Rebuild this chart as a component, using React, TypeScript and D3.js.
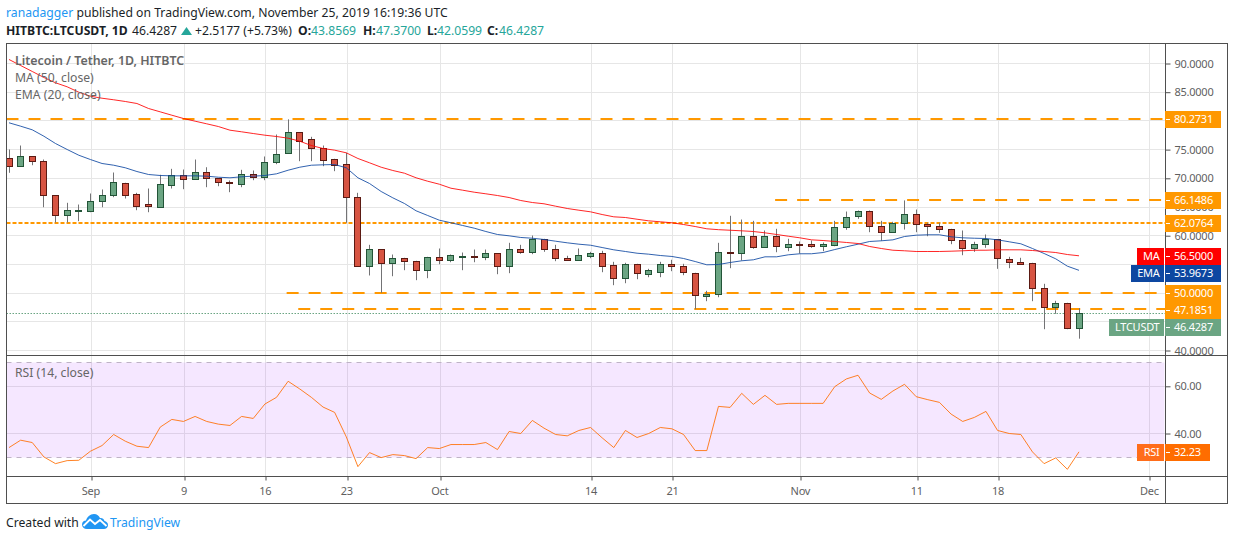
// App.tsx
import React, { useRef, useEffect } from 'react';
import * as d3 from 'd3';

const firstDay = new Date(Date.UTC(2019, 7, 25));
const lastDay = new Date(Date.UTC(2019, 10, 25));
const days = d3.utcDay.range(firstDay, d3.utcDay.offset(lastDay, 1));

const opens = [
  73.40, 72.11, 73.80, 72.87, 66.95, 63.57, 64.22, 64.27, 65.90, 67.06,
  69.04, 67.13, 65.38, 64.86, 68.80, 70.43, 69.84, 70.96, 69.91, 69.22,
  68.97, 70.61, 70.09, 72.70, 74.27, 77.93, 76.71, 75.14, 73.22, 72.35,
  66.60, 54.58, 57.54, 55.21, 55.97, 55.45, 53.88, 56.15, 55.63, 56.32,
  56.43, 56.25, 56.85, 54.58, 57.54, 57.02, 59.28, 57.54, 55.97, 55.73,
  56.43, 56.85, 54.76, 52.49, 54.93, 53.29, 53.64, 54.93, 54.58, 53.36,
  49.46, 49.70, 57.02, 56.85, 59.81, 57.89, 59.81, 57.89, 58.47, 58.47,
  58.17, 58.35, 61.38, 63.29, 64.16, 61.55, 60.50, 62.07, 63.64, 61.90,
  61.55, 61.03, 59.11, 57.72, 58.41, 59.28, 55.80, 55.28, 55.10, 50.75,
  47.44, 48.13, 43.8569,
];
const highs = [
  75.02, 75.71, 73.85, 73.27, 66.95, 65.73, 65.43, 67.35, 68.05, 71.01,
  69.22, 67.47, 68.22, 70.61, 71.65, 71.53, 73.27, 71.93, 69.91, 69.62,
  71.48, 71.36, 73.80, 77.63, 80.27, 77.93, 77.23, 75.71, 73.40, 74.44,
  67.47, 58.41, 57.54, 56.72, 56.15, 55.63, 56.32, 57.77, 56.72, 57.07,
  57.59, 57.59, 56.85, 58.76, 58.41, 60.03, 59.46, 58.41, 56.50, 57.77,
  57.19, 57.37, 55.45, 55.28, 55.10, 54.23, 55.45, 55.80, 55.10, 53.54,
  50.40, 58.76, 63.47, 62.82, 62.59, 60.91, 61.20, 59.46, 58.99, 59.16,
  58.82, 62.59, 64.21, 64.39, 64.39, 62.59, 62.42, 66.15, 64.56, 62.25,
  62.25, 61.20, 60.91, 58.94, 60.21, 59.28, 56.32, 56.15, 55.28, 51.62,
  48.66, 48.31, 47.37,
];
const lows = [
  70.96, 72.11, 72.28, 64.96, 62.30, 62.30, 62.53, 64.09, 64.96, 66.71,
  66.48, 64.44, 64.09, 64.86, 68.22, 68.10, 69.79, 68.45, 68.62, 67.58,
  68.45, 69.67, 69.67, 72.46, 74.27, 72.98, 72.98, 72.11, 71.24, 62.25,
  54.58, 53.07, 50.05, 52.94, 53.99, 52.25, 52.60, 55.03, 55.38, 53.99,
  55.38, 55.73, 53.29, 53.47, 56.85, 56.78, 57.19, 55.56, 55.63, 55.73,
  56.08, 53.64, 51.38, 51.72, 52.42, 52.77, 52.77, 53.82, 53.12, 47.19,
  48.59, 49.28, 54.34, 55.68, 57.72, 57.89, 57.12, 57.30, 56.90, 57.89,
  57.30, 58.17, 61.03, 62.94, 60.61, 59.11, 60.50, 61.08, 60.61, 59.91,
  60.50, 58.52, 56.60, 57.19, 57.89, 54.23, 54.34, 54.93, 48.59, 43.71,
  46.39, 43.71, 42.0599,
];
const closes = [
  72.11, 73.74, 72.98, 66.95, 63.57, 64.34, 64.34, 65.90, 66.95, 69.22,
  67.06, 65.14, 65.03, 68.87, 70.43, 69.84, 70.96, 69.91, 69.22, 69.04,
  70.61, 70.09, 72.70, 74.09, 77.93, 76.46, 75.14, 73.15, 72.28, 66.60,
  54.58, 57.54, 55.10, 55.97, 55.45, 53.88, 56.15, 55.63, 56.50, 56.43,
  56.25, 56.85, 54.58, 57.54, 57.02, 59.28, 57.54, 55.97, 55.73, 56.50,
  56.85, 54.58, 52.49, 54.93, 53.36, 53.88, 54.93, 54.58, 53.54, 49.53,
  49.70, 57.02, 56.85, 59.81, 57.89, 59.81, 58.07, 58.41, 58.35, 58.17,
  58.41, 61.38, 63.12, 64.16, 61.55, 60.50, 62.07, 63.64, 61.90, 61.55,
  61.03, 59.11, 57.72, 58.41, 59.28, 55.97, 55.28, 55.03, 50.75, 47.44,
  48.13, 43.8569, 46.4287,
];

const ma50 = [
  90.70, 89.65, 88.61, 87.56, 86.64, 85.94, 85.00, 84.30, 83.95, 83.68,
  83.38, 83.03, 82.16, 81.58, 80.99, 80.42, 79.95, 79.49, 79.02, 78.38,
  78.10, 77.80, 77.51, 77.28, 76.99, 76.46, 75.71, 75.19, 74.90, 74.44,
  73.45, 72.70, 71.93, 71.36, 70.89, 70.09, 69.49, 68.97, 68.27, 67.93,
  67.58, 67.30, 67.00, 66.65, 66.13, 65.78, 65.56, 65.14, 64.74, 64.44,
  64.16, 63.69, 63.29, 63.17, 62.87, 62.59, 62.42, 62.25, 61.95, 61.60,
  61.20, 61.05, 60.95, 60.85, 60.73, 60.50, 60.21, 59.91, 59.63, 59.28,
  59.16, 58.99, 58.82, 58.64, 58.12, 57.77, 57.47, 57.37, 57.25, 57.25,
  57.25, 57.30, 57.37, 57.47, 57.47, 57.54, 57.54, 57.54, 57.42, 57.25,
  57.07, 56.72, 56.50,
];
const ema20 = [
  79.67, 79.08, 78.45, 77.33, 76.06, 75.02, 74.02, 73.27, 72.58, 72.28,
  71.83, 71.18, 70.66, 70.49, 70.43, 70.43, 70.43, 70.37, 70.19, 70.09,
  70.26, 70.37, 70.49, 70.78, 71.41, 71.93, 72.28, 72.35, 72.40, 71.83,
  70.09, 69.09, 67.70, 66.60, 65.61, 64.34, 63.52, 62.70, 62.25, 61.78,
  61.31, 60.73, 60.21, 59.98, 59.69, 59.56, 59.34, 59.04, 58.76, 58.52,
  58.34, 57.94, 57.54, 57.25, 56.95, 56.78, 56.55, 56.38, 56.03, 55.50,
  54.93, 54.98, 55.33, 55.63, 55.80, 56.32, 56.32, 56.67, 56.85, 56.85,
  57.07, 57.59, 58.07, 58.52, 58.99, 59.11, 59.28, 59.86, 60.09, 60.16,
  60.16, 59.81, 59.63, 59.56, 59.51, 59.28, 58.94, 58.59, 57.77, 56.90,
  55.97, 54.69, 53.9673,
];
const rsi14 = [
  34.04, 37.16, 36.17, 30.07, 27.23, 28.51, 28.65, 32.48, 34.89, 39.57,
  36.74, 34.61, 34.04, 42.70, 45.96, 45.11, 47.23, 45.11, 43.97, 43.40,
  47.23, 46.38, 52.48, 55.32, 62.13, 58.87, 55.32, 51.21, 48.94, 38.58,
  25.96, 31.91, 29.79, 31.06, 30.64, 29.36, 34.04, 33.62, 35.32, 35.32,
  35.32, 36.17, 33.19, 40.85, 40.00, 45.53, 42.27, 39.57, 39.01, 41.28,
  42.55, 38.16, 34.04, 41.28, 38.30, 40.00, 42.55, 41.99, 39.57, 32.77,
  32.77, 51.49, 51.06, 57.02, 52.34, 56.17, 52.34, 52.77, 52.77, 52.77,
  52.77, 59.86, 63.12, 64.68, 57.16, 54.47, 58.01, 60.85, 55.60, 54.33,
  53.19, 48.23, 45.11, 46.81, 49.36, 41.28, 40.00, 39.57, 32.20, 27.23,
  29.65, 24.82, 32.23,
];

const priceTicks = [90, 85, 80, 75, 70, 65, 60, 55, 50, 45, 40];
// these tick labels sit fully behind the price tags
const coveredTicks = [80, 55, 50, 45];
const rsiTicks = [60, 40];
const rsiBand = [70, 30];
const timeTickDates = [
  new Date(Date.UTC(2019, 8, 1)), new Date(Date.UTC(2019, 8, 9)), new Date(Date.UTC(2019, 8, 16)),
  new Date(Date.UTC(2019, 8, 23)), new Date(Date.UTC(2019, 9, 1)), new Date(Date.UTC(2019, 9, 14)),
  new Date(Date.UTC(2019, 9, 21)), new Date(Date.UTC(2019, 10, 1)), new Date(Date.UTC(2019, 10, 11)),
  new Date(Date.UTC(2019, 10, 18)), new Date(Date.UTC(2019, 11, 1)),
];
const timeTickLabels = ['Sep', '9', '16', '23', 'Oct', '14', '21', 'Nov', '11', '18', 'Dec'];

const levelPrices = [80.2731, 66.1486, 62.0764, 50.0, 47.1851];
const levelStarts = [null, new Date(Date.UTC(2019, 9, 30)), null, new Date(Date.UTC(2019, 8, 18)), new Date(Date.UTC(2019, 8, 19))];
const levelDotted = [false, false, true, false, false];
const levelEnds = [1165, 1165, 1165, 1160, 1165];
const levelTagNudge = [0, 0, -1, 0, 1];

const FONT = '"Noto Sans", sans-serif';
const UP = '#6ba583', UP_DARK = '#225437', DOWN = '#d75442', DOWN_DARK = '#5b1a13';
const ORANGE = '#ff9800', BORDER = '#4f4f4f', GRID = '#e6e6e6', TICK_TEXT = '#5f5f5f';
const TEAL = '#26a69a', INK = '#1b1f28', BLUE = '#0d47a1';

const LEFT = 6.5, AXIS_X = 1165.5, RIGHT = 1227.5;
const TOP = 43.5, PRICE_BOTTOM = 355.5, RSI_BOTTOM = 476.5, BOTTOM = 503.5;

const App: React.FC = () => {
  const svgRef = useRef<SVGSVGElement | null>(null);

  useEffect(() => {
    const svg = d3.select(svgRef.current);
    svg.selectAll('*').remove();

    const x = d3.scaleUtc().domain([firstDay, lastDay]).range([9, 1079]);
    const y = d3.scaleLinear().domain([40, 90]).range([350.5, 63.5]);
    const r = d3.scaleLinear().domain([40, 60]).range([433.5, 386.3]);
    const gridX = (d: Date) => Math.round(x(d) + 0.5) + 0.5;
    const snap = (v: number) => Math.floor(v) + 0.5;
    const candleX = (d: Date) => Math.round(x(d) - 0.5) + 0.5;

    svg.append('clipPath').attr('id', 'pricePane').append('rect')
      .attr('x', LEFT).attr('y', TOP).attr('width', AXIS_X - LEFT).attr('height', PRICE_BOTTOM - TOP);
    svg.append('clipPath').attr('id', 'rsiPane').append('rect')
      .attr('x', LEFT).attr('y', PRICE_BOTTOM).attr('width', AXIS_X - LEFT).attr('height', RSI_BOTTOM - PRICE_BOTTOM);

    // Grid
    const grid = svg.append('g').attr('stroke', GRID).attr('stroke-width', 1);
    grid.selectAll('.price-h').data(priceTicks).enter().append('line')
      .attr('x1', LEFT).attr('x2', AXIS_X).attr('y1', d => snap(y(d))).attr('y2', d => snap(y(d)));
    grid.selectAll('.rsi-h').data(rsiTicks).enter().append('line')
      .attr('x1', LEFT).attr('x2', AXIS_X).attr('y1', d => snap(r(d))).attr('y2', d => snap(r(d)));
    grid.selectAll('.time-v').data(timeTickDates).enter().append('line')
      .attr('x1', gridX).attr('x2', gridX).attr('y1', TOP).attr('y2', RSI_BOTTOM);

    // RSI band
    svg.append('rect')
      .attr('x', LEFT).attr('width', AXIS_X - LEFT - 1)
      .attr('y', snap(r(rsiBand[0]))).attr('height', snap(r(rsiBand[1])) - snap(r(rsiBand[0])))
      .attr('fill', 'rgb(153,21,255)').attr('fill-opacity', 0.1);
    svg.append('g').selectAll('line').data(rsiBand).enter().append('line')
      .attr('x1', LEFT).attr('x2', AXIS_X - 1).attr('y1', d => snap(r(d))).attr('y2', d => snap(r(d)))
      .attr('stroke', '#bfb3c6').attr('stroke-dasharray', '5 5');

    // Horizontal levels
    const levels = svg.append('g').attr('clip-path', 'url(#pricePane)');
    levelPrices.forEach((p, i) => {
      const start = levelStarts[i];
      const ly = Math.round(levelDotted[i] ? y(p) - 0.5 : y(p));
      levels.append('line')
        .attr('x1', start ? x(start) - 1.5 : LEFT).attr('x2', levelEnds[i])
        .attr('y1', ly).attr('y2', ly)
        .attr('stroke', ORANGE).attr('stroke-width', 2)
        .attr('stroke-dasharray', levelDotted[i] ? '4 2' : '12 10');
    });
    const lastClose = closes[closes.length - 1];
    levels.append('line')
      .attr('x1', LEFT).attr('x2', AXIS_X)
      .attr('y1', snap(y(lastClose))).attr('y2', snap(y(lastClose)))
      .attr('stroke', UP).attr('stroke-dasharray', '1.5 1.5');

    // Candles
    const candles = svg.append('g').attr('clip-path', 'url(#pricePane)');
    candles.selectAll('.wick').data(days).enter().append('line')
      .attr('x1', candleX).attr('x2', candleX)
      .attr('y1', (d, i) => y(highs[i])).attr('y2', (d, i) => y(lows[i]))
      .attr('stroke', '#737375');
    candles.selectAll('.body').data(days).enter().append('rect')
      .attr('x', d => candleX(d) - 3)
      .attr('width', 6)
      .attr('y', (d, i) => snap(y(Math.max(opens[i], closes[i]))))
      .attr('height', (d, i) => Math.max(1, snap(y(Math.min(opens[i], closes[i]))) - snap(y(Math.max(opens[i], closes[i])))))
      .attr('fill', (d, i) => closes[i] >= opens[i] ? UP : DOWN)
      .attr('stroke', (d, i) => closes[i] >= opens[i] ? UP_DARK : DOWN_DARK);

    // Moving averages
    const priceLine = d3.line<number>().x((d, i) => x(days[i])).y(d => y(d));
    const lines = svg.append('g').attr('clip-path', 'url(#pricePane)').attr('fill', 'none');
    lines.append('path').attr('d', priceLine(ema20)).attr('stroke', BLUE).attr('stroke-opacity', 0.85);
    lines.append('path').attr('d', priceLine(ma50)).attr('stroke', '#ff0000').attr('stroke-opacity', 0.85);

    // RSI
    const rsiLine = d3.line<number>().x((d, i) => x(days[i])).y(d => r(d));
    svg.append('g').attr('clip-path', 'url(#rsiPane)').append('path')
      .attr('d', rsiLine(rsi14)).attr('fill', 'none').attr('stroke', '#ff6d00').attr('stroke-opacity', 0.85);

    // Frame
    const frame = svg.append('g').attr('stroke', BORDER).attr('fill', 'none');
    frame.append('rect').attr('x', LEFT).attr('y', TOP).attr('width', RIGHT - LEFT).attr('height', BOTTOM - TOP);
    frame.append('line').attr('x1', LEFT).attr('x2', RIGHT).attr('y1', PRICE_BOTTOM).attr('y2', PRICE_BOTTOM);
    frame.append('line').attr('x1', LEFT).attr('x2', RIGHT).attr('y1', RSI_BOTTOM).attr('y2', RSI_BOTTOM);
    frame.append('line').attr('x1', AXIS_X).attr('x2', AXIS_X).attr('y1', TOP).attr('y2', BOTTOM);

    // Axes
    const styleAxis = (g: any) => {
      g.select('.domain').remove();
      g.selectAll('line').attr('stroke', BORDER);
      g.selectAll('text').attr('fill', TICK_TEXT).attr('font-family', FONT).attr('font-size', 11).attr('letter-spacing', -0.25);
    };
    const priceFormat = (d: any) => coveredTicks.includes(d) ? '' : d3.format('.4f')(d);
    svg.append('g').attr('transform', `translate(${AXIS_X},0)`)
      .call(d3.axisRight(y).tickValues(priceTicks).tickFormat(priceFormat).tickSize(5).tickPadding(4))
      .call(styleAxis);
    svg.append('g').attr('transform', `translate(${AXIS_X},0)`)
      .call(d3.axisRight(r).tickValues(rsiTicks).tickFormat(d3.format('.2f') as any).tickSize(5).tickPadding(4))
      .call(styleAxis);
    svg.append('g').attr('transform', `translate(0,${RSI_BOTTOM})`)
      .call(d3.axisBottom(x).tickValues(timeTickDates).tickFormat((d, i) => timeTickLabels[i]).tickSize(4).tickPadding(7))
      .call(styleAxis)
      .selectAll('line').attr('transform', d => `translate(${gridX(d as Date) - x(d as Date)},0)`);

    // Price labels
    const tag = (cy: number, x0: number, w: number, fill: string, text: string, textX: number, anchor = 'start') => {
      const g = svg.append('g');
      g.append('rect').attr('x', x0).attr('y', cy - 8.5).attr('width', w).attr('height', 17).attr('fill', fill);
      g.append('text').attr('x', textX).attr('y', cy + 3.5).attr('fill', '#fff').attr('text-anchor', anchor)
        .attr('font-family', FONT).attr('font-size', 11).attr('letter-spacing', -0.25).text(text);
      if (x0 === 1165) {
        g.append('line').attr('x1', 1166).attr('x2', 1170).attr('y1', cy).attr('y2', cy).attr('stroke', '#fff');
      }
    };
    const valueTag = (v: number, cy: number, fill: string) => tag(cy, 1165, 56, fill, d3.format('.4f')(v), 1174);
    const nameTag = (cy: number, x0: number, fill: string, name: string) => tag(cy, x0, 1164 - x0, fill, name, 1159.5, 'end');

    levelPrices.forEach((p, i) => valueTag(p, Math.round(y(p)) + 0.5 + levelTagNudge[i], ORANGE));

    const maValue = ma50[ma50.length - 1];
    const maY = Math.round(y(maValue)) + 0.5;
    valueTag(maValue, maY, '#ff0000');
    nameTag(maY, 1137, '#ff0000', 'MA');

    // EMA and last price tags are pushed down to clear their neighbours
    const emaValue = ema20[ema20.length - 1];
    valueTag(emaValue, maY + 17, BLUE);
    nameTag(maY + 17, 1131, BLUE, 'EMA');
    const closeY = Math.round(y(47.1851)) + 1.5 + 17;
    valueTag(lastClose, closeY, UP);
    nameTag(closeY, 1109, UP, 'LTCUSDT');

    const lastRsi = rsi14[rsi14.length - 1];
    const rsiY = Math.round(r(lastRsi)) + 0.5;
    tag(rsiY, 1165, 45, '#ff6d00', d3.format('.2f')(lastRsi), 1174);
    nameTag(rsiY, 1137, '#ff6d1a', 'RSI');

    // Pane legends
    const legend = svg.append('g').attr('font-family', FONT).attr('font-size', 12.2).attr('fill', '#666');
    legend.append('text').attr('x', 15).attr('y', 65).attr('font-weight', 600).attr('font-size', 12.4).text('Litecoin / Tether, 1D, HITBTC');
    legend.append('text').attr('x', 15).attr('y', 82).text('MA (50, close)');
    legend.append('text').attr('x', 15).attr('y', 99).text('EMA (20, close)');
    legend.append('text').attr('x', 15).attr('y', 377).text('RSI (14, close)');

    // Header
    const head = svg.append('g').attr('font-family', FONT).attr('font-size', 12.2).attr('fill', INK);
    const line1 = head.append('text').attr('x', 6).attr('y', 17);
    line1.append('tspan').attr('fill', '#2196f3').text('ranadagger');
    line1.append('tspan').text(' published on TradingView.com, November 25, 2019 16:19:36 UTC');
    head.append('text').attr('x', 6).attr('y', 35).attr('font-weight', 700).text('HITBTC:LTCUSDT, 1D');
    head.append('text').attr('x', 132).attr('y', 35).text('46.4287');
    head.append('path').attr('d', 'M181 35 L186.5 27 L192 35 Z').attr('fill', TEAL);
    head.append('text').attr('x', 195).attr('y', 35).text('+2.5177 (+5.73%)');
    const ohlcNames = ['O:', 'H:', 'L:', 'C:'];
    const ohlcNameX = [298, 363, 427, 487];
    const ohlcValueX = [311, 376, 437, 499];
    const ohlcValues = [opens[92], highs[92], lows[92], closes[92]];
    ohlcNames.forEach((n, i) => {
      head.append('text').attr('x', ohlcNameX[i]).attr('y', 35).attr('font-weight', 700).text(n);
      head.append('text').attr('x', ohlcValueX[i]).attr('y', 35).attr('fill', TEAL).text(d3.format('.4f')(ohlcValues[i]));
    });

    // Footer
    const foot = svg.append('g').attr('font-family', FONT).attr('font-size', 12.2);
    foot.append('text').attr('x', 6).attr('y', 527).attr('fill', INK).text('Created with');
    foot.append('text').attr('x', 110).attr('y', 527).attr('fill', '#2196f3').text('TradingView');
    const logo = svg.append('g').attr('transform', 'translate(82,514)');
    logo.append('path').attr('fill', '#2196f3')
      .attr('d', 'M5 15 C2 15 0 13 0 10.5 C0 8 2 6.5 4 6.5 C5 3 8 0 12 0 C15 0 17 2 18 4 C19.5 3.5 22 4.5 22.5 7 C24.5 7.5 26 9 26 11 C26 13.5 24 15 22 15 Z');
    logo.append('path').attr('fill', 'none').attr('stroke', '#fff').attr('stroke-width', 1.8)
      .attr('d', 'M1.5 12 L8 5.5 L13 10 L18 6 L24.5 12');
  }, []);

  return (
    <svg ref={svgRef} width={1234} height={540} style={{ position: 'absolute', left: 0, top: 0, background: '#fff' }}></svg>
  );
};

export default App;
